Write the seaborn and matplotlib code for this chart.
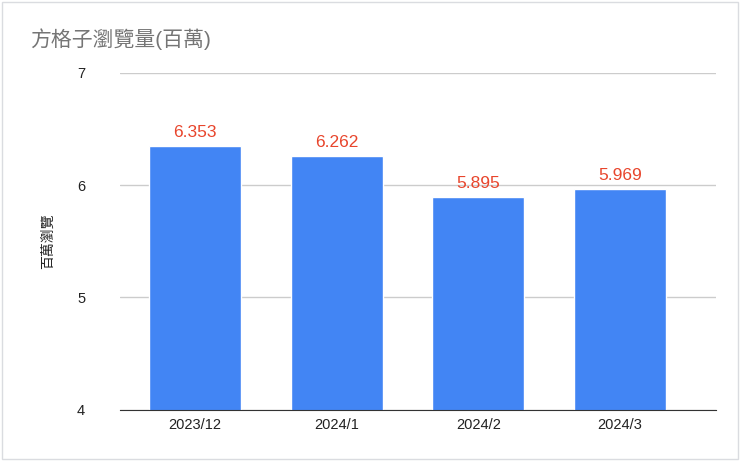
import matplotlib
matplotlib.use("Agg")
import matplotlib.pyplot as plt
import seaborn as sns
import pandas as pd

categories = ["2023/12", "2024/1", "2024/2", "2024/3"]
values = [6.353, 6.262, 5.895, 5.969]
value_labels = ["6.353", "6.262", "5.895", "5.969"]
yticks = [4, 5, 6, 7]

sns.set_style("white")
plt.rcParams['font.family'] = ['Liberation Sans', 'Noto Sans CJK TC', 'DejaVu Sans']

df = pd.DataFrame({"month": categories, "views": values})
fig = plt.figure(figsize=(7.4, 4.61), dpi=100)
ax = fig.add_axes([0.162, 0.111, 0.806, 0.731])
sns.barplot(data=df, x="month", y="views", color="#4285f4", saturation=1, width=0.65, ax=ax)
ax.set_ylim(4, 7)
ax.set_xlim(-0.53, 3.68)
ax.set_yticks(yticks)
ax.set_yticklabels([str(t) for t in yticks], fontsize=10.5, color="#222222")
ax.tick_params(axis="x", labelsize=10.5, colors="#222222", length=0, pad=6)
ax.tick_params(axis="y", length=0, pad=25)
ax.grid(axis="y", color="#cccccc", linewidth=1)
ax.set_axisbelow(True)
for s in ["top", "right", "left"]:
    ax.spines[s].set_visible(False)
ax.spines["bottom"].set_color("#333333")
ax.set_xlabel("")
ax.set_ylabel("百萬瀏覽", fontsize=10, color="#222222", labelpad=16)
for i, (v, lab) in enumerate(zip(values, value_labels)):
    ax.text(i, v + 0.05, lab, ha="center", va="bottom", color="#e8452c", fontsize=12.5)
fig.text(0.04, 0.915, "方格子瀏覽量(百萬)", fontsize=15, color="#757575", ha="left", va="center")
fig.patches.append(matplotlib.patches.Rectangle((0.003, 0.005), 0.994, 0.99, transform=fig.transFigure,
                                                fill=False, edgecolor="#dadce0", linewidth=1))
fig.savefig("out.png", dpi=100)
